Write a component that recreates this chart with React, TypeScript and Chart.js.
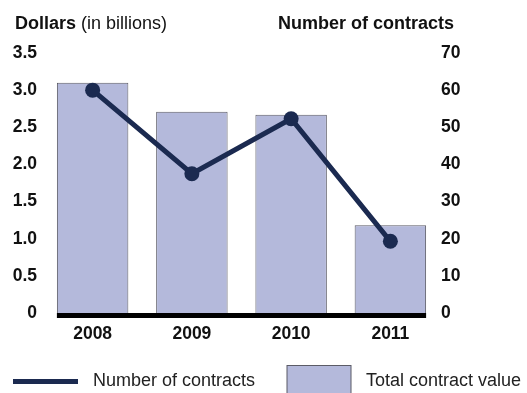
import React, { useEffect, useRef } from "react";
import { Chart, registerables } from "chart.js";

Chart.register(...registerables);

const years = ["2008", "2009", "2010", "2011"];
const totalValue = [3.1, 2.71, 2.67, 1.18];
const contracts = [60, 37.5, 52.3, 19.3];
const leftTicks = [0, 0.5, 1.0, 1.5, 2.0, 2.5, 3.0, 3.5];
const rightTicks = [0, 10, 20, 30, 40, 50, 60, 70];

const FONT = "'Liberation Sans', Arial, Helvetica, sans-serif";
const BAR_FILL = "#b4b9db";
const BAR_BORDER = "#5b5b66";
const LINE_COLOR = "#1b2a50";
const TEXT = "#111111";

const decorPlugin = {
  id: "decor",
  afterDatasetsDraw(chart: any) {
    const ctx = chart.ctx;
    const barMeta = chart.getDatasetMeta(1);
    const bars = barMeta.data;
    if (bars.length) {
      const first = bars[0];
      const last = bars[bars.length - 1];
      const x0 = first.x - first.width / 2;
      const x1 = last.x + last.width / 2;
      const yb = chart.scales.y.getPixelForValue(0);
      ctx.save();
      ctx.fillStyle = "#000";
      ctx.fillRect(x0, yb, x1 - x0, 5);
      ctx.restore();
    }
  },
  afterDraw(chart: any) {
    const ctx = chart.ctx;
    ctx.save();
    ctx.fillStyle = TEXT;
    ctx.textBaseline = "alphabetic";
    ctx.textAlign = "left";
    ctx.font = `bold 18px ${FONT}`;
    ctx.fillText("Dollars", 15, 28.5);
    const w = ctx.measureText("Dollars ").width;
    ctx.font = `18px ${FONT}`;
    ctx.fillText("(in billions)", 15 + w, 28.5);
    ctx.font = `bold 18px ${FONT}`;
    ctx.fillText("Number of contracts", 278, 28.5);

    // legend
    ctx.fillStyle = LINE_COLOR;
    ctx.fillRect(13, 379, 65, 5);
    ctx.fillStyle = "#222";
    ctx.font = `18px ${FONT}`;
    ctx.textBaseline = "middle";
    ctx.fillText("Number of contracts", 93, 381);
    ctx.fillStyle = BAR_FILL;
    ctx.fillRect(287, 365.5, 64, 40);
    ctx.strokeStyle = BAR_BORDER;
    ctx.lineWidth = 1;
    ctx.strokeRect(287, 365.5, 64, 40);
    ctx.fillStyle = "#222";
    ctx.fillText("Total contract value", 366, 381);
    ctx.restore();
  },
};

export default function App() {
  const ref = useRef<HTMLCanvasElement | null>(null);

  useEffect(() => {
    if (!ref.current) return;
    const chart = new Chart(ref.current, {
      type: "bar",
      data: {
        labels: years,
        datasets: [
          {
            type: "line",
            label: "Number of contracts",
            data: contracts,
            yAxisID: "y1",
            borderColor: LINE_COLOR,
            backgroundColor: LINE_COLOR,
            borderWidth: 5,
            pointRadius: 7.5,
            pointBorderWidth: 0,
            pointBackgroundColor: LINE_COLOR,
            tension: 0,
            order: 0,
          } as any,
          {
            type: "bar",
            label: "Total contract value",
            data: totalValue,
            yAxisID: "y",
            backgroundColor: BAR_FILL,
            borderColor: BAR_BORDER,
            borderWidth: 1,
            barPercentage: 0.72,
            categoryPercentage: 1,
            order: 1,
          },
        ],
      },
      options: {
        animation: false,
        responsive: false,
        maintainAspectRatio: false,
        layout: { padding: { top: 53, bottom: 0, left: 0, right: 0 } },
        plugins: {
          legend: { display: false },
          tooltip: { enabled: false },
          title: { display: false },
        },
        scales: {
          x: {
            grid: { display: false, drawTicks: false },
            border: { display: false },
            ticks: {
              color: TEXT,
              font: { family: FONT, size: 17.5, weight: "bold" },
              padding: 11,
              maxRotation: 0,
            },
            afterFit: (s: any) => {
              s.height = 80;
            },
          },
          y: {
            position: "left",
            min: 0,
            max: 3.5,
            grid: { display: false, drawTicks: false },
            border: { display: false },
            afterBuildTicks: (s: any) => {
              s.ticks = leftTicks.map((v) => ({ value: v }));
            },
            ticks: {
              color: TEXT,
              font: { family: FONT, size: 17.5, weight: "bold" },
              padding: 6,
              callback: (v: any) => (Number(v) === 0 ? "0" : Number(v).toFixed(1)),
            },
            afterFit: (s: any) => {
              s.width = 43;
            },
          },
          y1: {
            position: "right",
            min: 0,
            max: 70,
            grid: { display: false, drawTicks: false },
            border: { display: false },
            afterBuildTicks: (s: any) => {
              s.ticks = rightTicks.map((v) => ({ value: v }));
            },
            ticks: {
              color: TEXT,
              font: { family: FONT, size: 17.5, weight: "bold" },
              padding: 1,
              callback: (v: any) => String(v),
            },
            afterFit: (s: any) => {
              s.width = 87;
            },
          },
        },
      },
      plugins: [decorPlugin],
    });
    return () => chart.destroy();
  }, []);

  return (
    <div style={{ position: "absolute", left: 0, top: 0, width: 527, height: 393, background: "#fff" }}>
      <canvas ref={ref} width={527} height={393} style={{ display: "block", width: 527, height: 393 }} />
    </div>
  );
}
